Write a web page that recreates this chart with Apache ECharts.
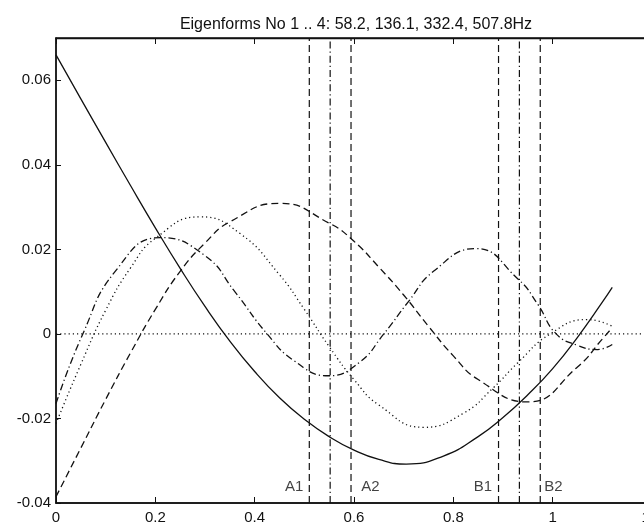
<!DOCTYPE html>
<html>
<head>
<meta charset="utf-8">
<script src="https://cdn.jsdelivr.net/npm/echarts@6/dist/echarts.min.js"></script>
<style>
  html, body { margin: 0; padding: 0; background: #fff; }
  #chart { width: 644px; height: 524px; }
</style>
</head>
<body>
<div id="chart"></div>
<script>
// Mode shapes 1..4: positions along the span and deflections there
const mode1X = [0, 0.05, 0.1, 0.15, 0.2, 0.25, 0.3, 0.35, 0.4, 0.45, 0.5, 0.55, 0.6, 0.65, 0.705,
                0.78, 0.85, 0.9, 0.95, 1.0, 1.05, 1.1, 1.12];
const mode1Y = [0.066, 0.0556, 0.0453, 0.0351, 0.0251, 0.0155, 0.0065, -0.0017, -0.0089, -0.0151, -0.0202, -0.0243,
                -0.0275, -0.0297, -0.0308, -0.0289, -0.0243, -0.0198, -0.0144, -0.0082, -0.0008, 0.0075, 0.011];

const mode2X = [0, 0.05, 0.1, 0.15, 0.2, 0.25, 0.3, 0.35, 0.45, 0.55, 0.6, 0.65, 0.7, 0.75, 0.8, 0.85,
                0.95, 1.05, 1.1, 1.12];
const mode2Y = [-0.0385, -0.027, -0.0155, -0.0045, 0.0058, 0.0148, 0.0215, 0.0265, 0.0309, 0.0262, 0.0219, 0.0158,
                0.0092, 0.0018, -0.0052, -0.0108, -0.0161, -0.0078, -0.0012, 0.0015];

const mode3X = [0, 0.05, 0.1, 0.15, 0.2, 0.29, 0.37, 0.45, 0.5, 0.55, 0.6, 0.65, 0.74, 0.82, 0.88, 0.93,
                0.995, 1.07, 1.12];
const mode3Y = [-0.0212, -0.0072, 0.0056, 0.0156, 0.0226, 0.0277, 0.0238, 0.014, 0.0058, -0.003, -0.0108, -0.0168,
                -0.0221, -0.0188, -0.0128, -0.0068, 0, 0.0034, 0.0018];

const mode4X = [0, 0.054, 0.12, 0.21, 0.3, 0.36, 0.425, 0.48, 0.548, 0.61, 0.66, 0.71, 0.76, 0.845, 0.93,
                0.97, 1.007, 1.05, 1.09, 1.12];
const mode4Y = [-0.0165, 0, 0.0149, 0.0228, 0.0185, 0.01, 0, -0.0064, -0.0099, -0.0068, 0, 0.0077, 0.0148, 0.0202,
                0.013, 0.007, 0, -0.0027, -0.0037, -0.0025];

// Section lines: [left, centre, right] of each region
const cutA = [0.51, 0.552, 0.594];
const cutB = [0.891, 0.933, 0.975];

// Region labels: [text, x, y, align]
const regionLabels = [
  ['A1', 0.498, -0.0363, 'right'],
  ['A2', 0.6145, -0.0363, 'left'],
  ['B1', 0.878, -0.0363, 'right'],
  ['B2', 0.983, -0.0363, 'left']
];

const titleText = 'Eigenforms No 1 .. 4: 58.2, 136.1, 332.4, 507.8Hz';
const yMin = -0.04, yMax = 0.07, xMin = 0, xMax = 1.2;

const INK = '#111';
const FONT = 'Liberation Sans, Arial, Helvetica, sans-serif';
const DASH = [7, 4];
const DOT = [1.2, 3];
const DASHDOT = [7, 3, 1.2, 3];

function curve(name, px, py, dash) {
  return {
    name: name,
    type: 'line',
    data: px.map((x, i) => [x, py[i]]),
    showSymbol: false,
    smooth: 0.5,
    lineStyle: { color: INK, width: 1.3, type: dash },
    z: 3
  };
}

function vline(x, dash) {
  return {
    type: 'line',
    data: [[x, yMin], [x, yMax]],
    showSymbol: false,
    lineStyle: { color: INK, width: 1.2, type: dash },
    z: 2
  };
}

const series = [
  {
    type: 'line',
    data: [[xMin, 0], [xMax, 0]],
    showSymbol: false,
    lineStyle: { color: INK, width: 1.1, type: DOT },
    z: 1
  },
  curve('mode1', mode1X, mode1Y, 'solid'),
  curve('mode2', mode2X, mode2Y, DASH),
  curve('mode3', mode3X, mode3Y, DOT),
  curve('mode4', mode4X, mode4Y, DASHDOT),
  vline(cutA[0], DASH), vline(cutA[1], DASHDOT), vline(cutA[2], DASH),
  vline(cutB[0], DASH), vline(cutB[1], DASHDOT), vline(cutB[2], DASH),
  {
    type: 'scatter',
    symbolSize: 0,
    data: regionLabels.map(l => ({
      value: [l[1], l[2]],
      label: {
        show: true, formatter: l[0], position: 'inside',
        align: l[3], verticalAlign: 'middle',
        color: INK, fontSize: 15, fontFamily: FONT
      }
    })),
    z: 4
  }
];

const chart = echarts.init(document.getElementById('chart'), null, { renderer: 'canvas' });
chart.setOption({
  animation: false,
  backgroundColor: '#fff',
  title: {
    text: titleText,
    left: 351,
    top: 12,
    textAlign: 'center',
    textStyle: { color: INK, fontSize: 16, fontWeight: 'normal', fontFamily: FONT }
  },
  grid: {
    left: 56, top: 38, width: 596, height: 465,
    outerBoundsMode: 'none',
    containLabel: false,
    show: true, borderColor: INK, borderWidth: 1.3, backgroundColor: 'transparent'
  },
  xAxis: [
    {
      type: 'value', min: xMin, max: xMax, interval: 0.2, position: 'bottom',
      axisLine: { show: true, onZero: false, lineStyle: { color: INK, width: 1.5 } },
      axisTick: { show: true, inside: true, length: 6, lineStyle: { color: INK, width: 1 } },
      axisLabel: { color: INK, fontSize: 15, fontFamily: FONT, margin: 7 },
      splitLine: { show: false }
    },
    {
      type: 'value', min: xMin, max: xMax, interval: 0.2, position: 'top',
      axisLine: { show: true, onZero: false, lineStyle: { color: INK, width: 1.3 } },
      axisTick: { show: true, inside: true, length: 6, lineStyle: { color: INK, width: 1 } },
      axisLabel: { show: false },
      splitLine: { show: false }
    }
  ],
  yAxis: {
    type: 'value', min: yMin, max: yMax, interval: 0.02,
    axisLine: { show: true, onZero: false, lineStyle: { color: INK, width: 1.5 } },
    axisTick: { show: true, inside: true, length: 5, lineStyle: { color: INK, width: 1 } },
    axisLabel: {
      color: INK, fontSize: 15, fontFamily: FONT, margin: 5, showMaxLabel: false,
      formatter: v => (Math.abs(v - yMax) < 1e-9 ? '' : String(Math.round(v * 100) / 100))
    },
    splitLine: { show: false }
  },
  series: series
});
</script>
</body>
</html>
